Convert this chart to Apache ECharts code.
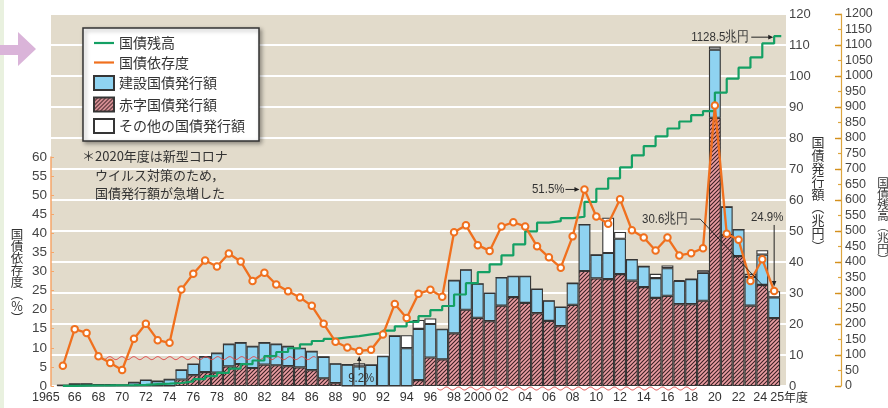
<!DOCTYPE html>
<html>
<head>
<meta charset="utf-8">
<script src="https://cdn.jsdelivr.net/npm/echarts@6/dist/echarts.min.js"></script>
<style>
  html, body { margin: 0; padding: 0; background: #fff; }
  #chart { width: 888px; height: 408px; }
</style>
</head>
<body>
<div id="chart"></div>
<script>
// 年度
const years = [
  1965, 1966, 1967, 1968, 1969, 1970, 1971, 1972, 1973, 1974,
  1975, 1976, 1977, 1978, 1979, 1980, 1981, 1982, 1983, 1984,
  1985, 1986, 1987, 1988, 1989, 1990, 1991, 1992, 1993, 1994,
  1995, 1996, 1997, 1998, 1999, 2000, 2001, 2002, 2003, 2004,
  2005, 2006, 2007, 2008, 2009, 2010, 2011, 2012, 2013, 2014,
  2015, 2016, 2017, 2018, 2019, 2020, 2021, 2022, 2023, 2024, 2025
];

// 赤字国債発行額（兆円）
const deficitBonds = [
  0.2, 0, 0, 0, 0, 0, 0, 0, 0, 0,
  2.1, 3.5, 4.5, 4.3, 6.3, 7.1, 5.8, 6.9, 6.7, 6.4,
  6.0, 5.1, 2.5, 0.9, 0, 0, 0, 0, 0, 0,
  1.9, 9.2, 8.6, 17.0, 24.6, 22.0, 20.9, 25.9, 28.7, 26.8,
  23.5, 21.0, 19.3, 26.2, 37.1, 34.7, 34.5, 36.1, 34.0, 31.9,
  28.4, 29.1, 26.4, 26.4, 27.5, 86.5, 48.7, 41.9, 25.9, 32.6, 21.9
];

// 建設国債発行額（兆円）
const constructionBonds = [
  0, 0.67, 0.71, 0.46, 0.49, 0.35, 1.19, 1.95, 1.6, 2.16,
  3.1, 3.6, 5.0, 6.3, 7.2, 6.9, 7.0, 7.1, 6.8, 6.4,
  6.2, 6.1, 6.9, 6.3, 6.9, 6.3, 6.8, 9.6, 16.2, 12.2,
  16.5, 10.8, 9.7, 17.1, 12.9, 11.0, 9.1, 9.1, 6.7, 8.6,
  7.8, 6.5, 6.2, 7.0, 15.0, 7.6, 8.4, 11.4, 6.8, 6.7,
  6.4, 8.9, 7.5, 8.1, 9.0, 22.0, 9.1, 8.6, 9.3, 9.8, 6.7
];

// その他の国債発行額（兆円）
const otherBonds = [
  0, 0, 0, 0, 0, 0, 0, 0, 0, 0,
  0, 0, 0, 0, 0, 0, 0, 0, 0, 0,
  0, 0, 0, 0, 0, 1.0, 0, 0, 0, 4.2,
  2.9, 1.8, 0, 0, 0, 0, 0, 0, 0, 0,
  0, 0, 0, 0, 0, 0, 11.4, 2.2, 0, 0,
  1.4, 0.9, 0.3, 0, 0.8, 1.0, 0, 0, 1.0, 1.4, 2.0
];

// 国債依存度（%）
const dependencyRatio = [
  5.3, 14.9, 13.9, 7.8, 6.0, 4.2, 12.4, 16.3, 12.0, 11.3,
  25.3, 29.4, 32.9, 31.3, 34.7, 32.6, 27.5, 29.7, 26.6, 24.8,
  23.2, 21.0, 16.3, 11.6, 10.1, 9.2, 9.5, 13.5, 21.5, 17.8,
  24.2, 25.2, 23.4, 40.3, 42.1, 36.9, 35.4, 41.8, 42.9, 41.8,
  36.6, 33.7, 31.0, 39.2, 51.5, 44.4, 42.5, 48.9, 40.8, 38.9,
  35.5, 38.9, 34.2, 34.8, 36.1, 73.5, 39.9, 38.3, 27.5, 33.2, 24.9
];

// 国債残高（兆円）
const outstanding = [
  0.2, 0.9, 1.6, 2.0, 2.5, 2.8, 3.9, 5.8, 7.5, 9.7,
  15.0, 22.1, 31.9, 42.6, 56.3, 70.5, 82.3, 96.5, 109.7, 121.7,
  134.4, 145.1, 151.8, 156.8, 160.9, 166.3, 171.6, 178.4, 192.5, 206.6,
  225.2, 244.7, 258.0, 295.2, 331.7, 367.6, 392.4, 421.1, 456.9, 499.0,
  526.9, 531.7, 541.5, 546.0, 593.9, 636.3, 669.9, 705.0, 743.9, 774.1,
  805.4, 830.6, 853.2, 874.0, 886.7, 946.6, 991.4, 1027.0, 1060.0, 1105.0, 1128.5
];

// 横軸の目盛りラベル
const xLabelYears = [1965, 1966, 1968, 1970, 1972, 1974, 1976, 1978, 1980, 1982, 1984, 1986,
  1988, 1990, 1992, 1994, 1996, 1998, 2000, 2002, 2004, 2006, 2008, 2010, 2012, 2014,
  2016, 2018, 2020, 2022, 2024, 2025];
const xLabelTexts = ['1965', '66', '68', '70', '72', '74', '76', '78', '80', '82', '84', '86',
  '88', '90', '92', '94', '96', '98', '2000', '02', '04', '06', '08', '10', '12', '14',
  '16', '18', '20', '22', '24', '25'];

const FONT_AX = '"Liberation Sans", Arial, sans-serif';
const FONT_JP = '"Noto Sans CJK JP", "Noto Sans CJK SC", sans-serif';

const C_BG = '#e2dbcb';
const C_BLUE = '#8fd3f1';
const C_ORANGE = '#f0701e';
const C_GREEN = '#14a064';
const C_GOLD = '#dca53e';
const C_EDGE = '#353535';
const C_TEXT = '#333';

// 赤字国債の斜線模様
function hatchPattern() {
  const c = document.createElement('canvas');
  c.width = 4; c.height = 4;
  const g = c.getContext('2d');
  g.fillStyle = '#eb9ea3';
  g.fillRect(0, 0, 4, 4);
  g.strokeStyle = '#3a2024';
  g.lineWidth = 1.1;
  g.beginPath();
  g.moveTo(-1, 5); g.lineTo(5, -1);
  g.moveTo(-1, 1); g.lineTo(1, -1);
  g.moveTo(3, 5); g.lineTo(5, 3);
  g.stroke();
  return c;
}
const hatch = { image: hatchPattern(), repeat: 'repeat' };

const firstYear = years[0];
const lastYear = years[years.length - 1];
const X_MIN = firstYear - 1;
const X_MAX = lastYear + 1;

const pairs = arr => years.map((y, i) => [y, arr[i]]);
const outstandingLine = pairs(outstanding).concat([[lastYear + 0.6, outstanding[outstanding.length - 1]]]);

const GRID_LEFT = 51, GRID_RIGHT = 102, GRID_TOP = 14, GRID_BOTTOM = 22;
const plotW = 888 - GRID_LEFT - GRID_RIGHT;
const yearW = plotW / (X_MAX - X_MIN);
// 棒グラフ用のカテゴリ軸は半年分ずつ内側に寄せる
const BAR_LEFT = GRID_LEFT + yearW / 2;
const BAR_RIGHT = GRID_RIGHT + yearW / 2;

const chart = echarts.init(document.getElementById('chart'), null, { renderer: 'canvas' });

const barSeries = (name, arr, color) => ({
  name, type: 'bar', stack: 'issue', xAxisIndex: 2, yAxisIndex: 4,
  data: arr, barCategoryGap: '0%',
  itemStyle: { color, borderColor: C_EDGE, borderWidth: 1.1 },
  emphasis: { disabled: true }, z: 2
});

const X_FS = 12.5;

const option = {
  animation: false,
  backgroundColor: '#fff',
  grid: [
    { left: GRID_LEFT, right: GRID_RIGHT, top: GRID_TOP, bottom: GRID_BOTTOM,
      show: true, backgroundColor: C_BG, borderWidth: 0, outerBoundsMode: 'none' },
    { left: GRID_LEFT, right: GRID_RIGHT, top: 408 - GRID_BOTTOM - 60 * 3.817, bottom: GRID_BOTTOM,
      show: false, outerBoundsMode: 'none' },
    { left: BAR_LEFT, right: BAR_RIGHT, top: GRID_TOP, bottom: GRID_BOTTOM,
      show: false, outerBoundsMode: 'none' }
  ],
  xAxis: [
    { type: 'value', gridIndex: 0, min: X_MIN, max: X_MAX, interval: 1,
      axisLine: { show: false }, axisTick: { show: false }, splitLine: { show: false },
      axisLabel: {
        margin: 5, fontFamily: FONT_AX, fontSize: X_FS, color: C_TEXT, hideOverlap: false,
        formatter: v => {
          const i = xLabelYears.indexOf(Math.round(v));
          if (i < 0) return '';
          if (i === 0) return '{first|' + xLabelTexts[i] + '}';
          if (i === xLabelYears.length - 1) return '{last|' + xLabelTexts[i] + '}{unit|年度}';
          if (i === xLabelYears.length - 2) return '{pre|' + xLabelTexts[i] + '}';
          return xLabelTexts[i];
        },
        rich: {
          first: { fontFamily: FONT_AX, fontSize: X_FS, color: C_TEXT, padding: [0, 34, 0, 0] },
          pre: { fontFamily: FONT_AX, fontSize: X_FS, color: C_TEXT, padding: [0, 4, 0, 0] },
          last: { fontFamily: FONT_AX, fontSize: X_FS, color: C_TEXT, padding: [0, 0, 0, 30] },
          unit: { fontFamily: FONT_JP, fontSize: 12, color: C_TEXT }
        }
      } },
    { type: 'value', gridIndex: 1, min: X_MIN, max: X_MAX, interval: 1, show: false },
    { type: 'category', gridIndex: 2, data: years.map(String), boundaryGap: true, show: false }
  ],
  yAxis: [
    // 国債発行額（兆円）
    { type: 'value', gridIndex: 0, position: 'right', min: 0, max: 120, interval: 10,
      axisLine: { show: false }, axisTick: { show: false },
      splitLine: { show: true, lineStyle: { color: '#fff', width: 2 } },
      axisLabel: { margin: 3, fontFamily: FONT_AX, fontSize: 13, color: '#444' } },
    // 国債残高（兆円）
    { type: 'value', gridIndex: 0, position: 'right', offset: 55, min: 0, max: 1200, interval: 50,
      axisLine: { show: true, lineStyle: { color: C_GOLD, width: 1.2 } },
      axisTick: { show: true, inside: true, length: 3, lineStyle: { color: C_GOLD, width: 1.2 } },
      splitLine: { show: false },
      axisLabel: { margin: 4, fontFamily: FONT_AX, fontSize: 12.5, color: '#444', formatter: v => String(v) } },
    // 国債残高の100兆円ごとの目盛り
    { type: 'value', gridIndex: 0, position: 'right', offset: 55, min: 0, max: 1200, interval: 100,
      axisLine: { show: false },
      axisTick: { show: true, inside: true, length: 6, lineStyle: { color: '#d4901c', width: 1.4 } },
      splitLine: { show: false }, axisLabel: { show: false } },
    // 国債依存度（%）
    { type: 'value', gridIndex: 1, position: 'left', min: 0, max: 60, interval: 5,
      axisLine: { show: true, lineStyle: { color: '#f5a66a', width: 1.5 } },
      axisTick: { show: true, inside: true, length: 3, lineStyle: { color: '#f5a66a' } },
      splitLine: { show: false },
      axisLabel: { margin: 4, fontFamily: FONT_AX, fontSize: 13.5, color: '#444' } },
    // 棒グラフ用（国債発行額と同じ目盛り）
    { type: 'value', gridIndex: 2, min: 0, max: 120, interval: 10, show: false, splitLine: { show: false } }
  ],
  legend: {
    orient: 'vertical', left: 83, top: 28,
    itemWidth: 20, itemHeight: 14, itemGap: 5.5,
    padding: [8, 14, 7, 10],
    backgroundColor: '#fff', borderColor: '#333', borderWidth: 1.5, borderRadius: 0,
    shadowColor: 'rgba(0,0,0,0.35)', shadowBlur: 4, shadowOffsetX: 2, shadowOffsetY: 2,
    selectedMode: false,
    textStyle: { fontFamily: FONT_JP, fontSize: 14, color: C_TEXT },
    data: [
      { name: '国債残高', icon: 'path://M0,0H20V2.2H0Z' },
      { name: '国債依存度', icon: 'path://M0,0H20V2.2H0Z' },
      { name: '建設国債発行額', icon: 'rect' },
      { name: '赤字国債発行額', icon: 'rect' },
      { name: 'その他の国債発行額', icon: 'rect' }
    ]
  },
  series: [
    barSeries('赤字国債発行額', deficitBonds, hatch),
    barSeries('建設国債発行額', constructionBonds, C_BLUE),
    barSeries('その他の国債発行額', otherBonds, '#fff'),
    { name: '国債残高', type: 'line', xAxisIndex: 0, yAxisIndex: 1,
      data: outstandingLine, step: 'end', symbol: 'none',
      lineStyle: { color: C_GREEN, width: 2.2 }, itemStyle: { color: C_GREEN },
      emphasis: { disabled: true }, z: 4 },
    { name: '国債依存度', type: 'line', xAxisIndex: 1, yAxisIndex: 3,
      data: pairs(dependencyRatio), clip: false,
      symbol: 'emptyCircle', symbolSize: 6.5,
      lineStyle: { color: C_ORANGE, width: 2.3 },
      itemStyle: { color: C_ORANGE, borderWidth: 1.8 },
      emphasis: { disabled: true }, z: 5 }
  ]
};

chart.setOption(option);

// 注記・矢印・装飾
const toPx = (seriesIndex, x, y) => chart.convertToPixel({ seriesIndex }, [x, y]);
// 数値の注記は少し細めに描く
const txt = (x, y, text, extra) => ({
  type: 'text', x, y, z: 10, scaleX: 0.85,
  style: Object.assign({ text, fill: C_TEXT, font: '13.5px ' + FONT_AX,
    align: 'right', verticalAlign: 'middle' }, extra || {})
});
const seg = (pts, color, w) => ({ type: 'polyline', z: 10, shape: { points: pts },
  style: { stroke: color || '#222', lineWidth: w || 1, fill: null } });
const head = (pts) => ({ type: 'polygon', z: 10, shape: { points: pts }, style: { fill: '#222' } });
const wave = (x0, x1, y, amp, period) => {
  const pts = [];
  for (let x = x0; x <= x1; x += 1) pts.push([x, y + amp * Math.sin((x - x0) / period * 2 * Math.PI)]);
  return { type: 'polyline', z: 3, shape: { points: pts }, style: { stroke: '#e04848', lineWidth: 1, fill: null } };
};

const iPeak = years.indexOf(2009);
const pPeak = toPx(4, years[iPeak], dependencyRatio[iPeak]);
const iLow = years.indexOf(1990);
const pLow = toPx(4, years[iLow], dependencyRatio[iLow]);
const iEnd = years.length - 1;
const pEnd = toPx(4, lastYear, dependencyRatio[iEnd]);
const endTotal = deficitBonds[iEnd] + constructionBonds[iEnd] + otherBonds[iEnd];
const pBar = toPx(2, iEnd, endTotal);
const barCorner = [pBar[0] - yearW / 2, pBar[1]];
const pTail = toPx(3, outstandingLine[outstandingLine.length - 1][0], outstanding[iEnd]);

const fmt1 = v => (Math.round(v * 10) / 10).toFixed(1);

const graphics = [
  // 左端の帯と矢印
  { type: 'rect', z: 0, shape: { x: 0, y: 0, width: 4, height: 408 }, style: { fill: '#e9f1df' } },
  { type: 'polygon', z: 1, shape: { points: [[0, 45], [18, 45], [18, 32], [36, 49], [18, 66], [18, 55], [0, 55]] },
    style: { fill: '#dab4d9' } },
  // 装飾の波線
  wave(toPx(4, 1968.2, 0)[0], toPx(4, 1986.4, 0)[0], toPx(4, 1968.2, 7.3)[1], 1.5, 12),
  wave(toPx(3, 1996.6, 0)[0], toPx(3, 2018.5, 0)[0], toPx(3, 1996.6, 0)[1] + 2.5, 1.5, 12),
  // 軸タイトル
  { type: 'text', z: 10, x: 17, y: 228,
    style: { text: '国\n債\n依\n存\n度\n︵\n%\n︶', fill: C_TEXT, font: '12.5px ' + FONT_JP,
      lineHeight: 12, align: 'center', verticalAlign: 'top' } },
  { type: 'text', z: 10, x: 818, y: 136,
    style: { text: '国\n債\n発\n行\n額\n︵\n兆\n円\n︶', fill: C_TEXT, font: '13px ' + FONT_JP,
      lineHeight: 13, align: 'center', verticalAlign: 'top' } },
  { type: 'text', z: 10, x: 883, y: 177,
    style: { text: '国\n債\n残\n高\n︵\n兆\n円\n︶', fill: C_TEXT, font: '11.5px ' + FONT_JP,
      lineHeight: 11, align: 'center', verticalAlign: 'top' } },
  // 注記
  { type: 'text', z: 10, x: 82, y: 147,
    style: { text: '＊2020年度は新型コロナ\n　ウイルス対策のため，\n　国債発行額が急増した',
      fill: C_TEXT, font: '13px ' + FONT_JP, lineHeight: 18.5, align: 'left', verticalAlign: 'top' } },
  // 51.5%
  txt(pPeak[0] - 20, pPeak[1], fmt1(dependencyRatio[iPeak]) + '%'),
  seg([[pPeak[0] - 19, pPeak[1]], [pPeak[0] - 8, pPeak[1]]]),
  head([[pPeak[0] - 5, pPeak[1]], [pPeak[0] - 10, pPeak[1] - 2.3], [pPeak[0] - 10, pPeak[1] + 2.3]]),
  // 9.2%
  txt(pLow[0] + 2, pLow[1] + 27, fmt1(dependencyRatio[iLow]) + '%', { align: 'center' }),
  seg([[pLow[0], pLow[1] + 19], [pLow[0], pLow[1] + 9]]),
  head([[pLow[0], pLow[1] + 5], [pLow[0] - 2.2, pLow[1] + 10], [pLow[0] + 2.2, pLow[1] + 10]]),
  // 1128.5兆円
  txt(pTail[0] - 32, pTail[1] + 1, fmt1(outstanding[iEnd]) + '兆円'),
  seg([[pTail[0] - 30, pTail[1] + 1], [pTail[0] - 12, pTail[1] + 1]]),
  head([[pTail[0] - 8, pTail[1] + 1], [pTail[0] - 13, pTail[1] - 1.3], [pTail[0] - 13, pTail[1] + 3.3]]),
  // 30.6兆円
  txt(barCorner[0] - 80, barCorner[1] - 72, fmt1(endTotal) + '兆円'),
  seg([[barCorner[0] - 78, barCorner[1] - 72], [barCorner[0] - 68, barCorner[1] - 72], barCorner], '#222', 0.9),
  // 24.9%
  txt(pEnd[0] - 7, pEnd[1] - 74, fmt1(dependencyRatio[iEnd]) + '%', { align: 'center' }),
  seg([[pEnd[0], pEnd[1] - 66], [pEnd[0], pEnd[1] - 9]]),
  head([[pEnd[0], pEnd[1] - 4.5], [pEnd[0] - 2.2, pEnd[1] - 10], [pEnd[0] + 2.2, pEnd[1] - 10]])
];

chart.setOption({ graphic: graphics });
</script>
</body>
</html>
